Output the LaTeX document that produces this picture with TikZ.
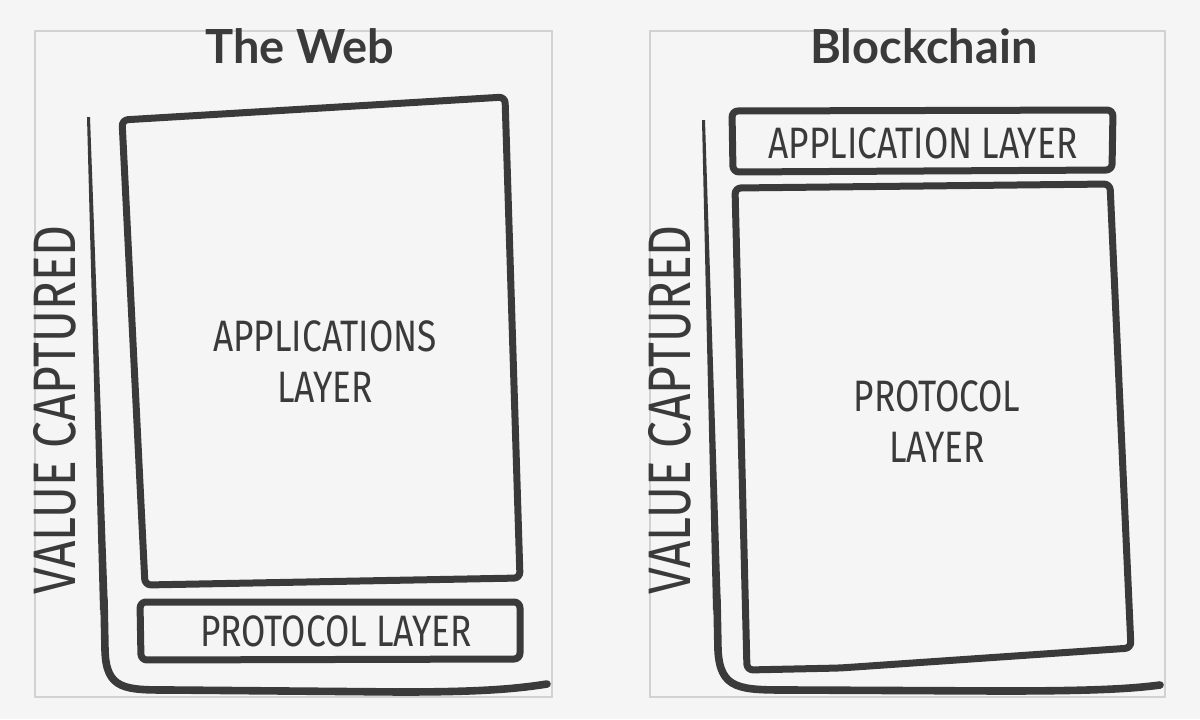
\documentclass[tikz,border=0pt]{standalone}
\usepackage{fontspec}
\newfontfamily\titlefont{Lato}
\newfontfamily\handfont[FakeStretch=0.8]{Fira Sans}
\usetikzlibrary{positioning}

\definecolor{bgcol}{HTML}{F5F5F5}
\definecolor{framecol}{HTML}{D2D2D2}
\definecolor{inkcol}{HTML}{3A3A3A}

\begin{document}
\begin{tikzpicture}[
    x=0.5pt, y=-0.5pt,
    panel/.style={draw=framecol, line width=0.6pt, fill=bgcol},
    title/.style={font=\titlefont\bfseries\fontsize{23.5}{28}\selectfont, text=inkcol},
    hand/.style={font=\handfont\fontsize{22}{25.5}\selectfont, text=inkcol, align=center},
    axislabel/.style={font=\handfont\fontsize{30}{34}\selectfont, text=inkcol, rotate=90},
    sketch/.style={draw=inkcol, line width=3.5pt, line join=round, rounded corners=3pt},
    axisline/.style={draw=inkcol, line width=3.8pt, line cap=round},
]

% Background
\fill[bgcol] (0,0) rectangle (1200,719);
\useasboundingbox (0,0) rectangle (1200,719);

% Left panel: the web
\draw[panel] (35,31) rectangle (552,697);
\node[title] (webtitle) at (300,46) {The Web};

\fill[inkcol] (87,117) -- (90,117) -- (108,610) -- (100,610) -- cycle;
\draw[axisline] (104,600) -- (105,650)
  .. controls (106,690) and (125,690) .. (170,690) -- (400,692)
  .. controls (480,692) and (515,689) .. (547,684);

\draw[sketch] (122,120) -- (505,97) -- (520,578) -- (145,585) -- cycle;
\node[hand] (webapp) at (325,362) {APPLICATIONS\\LAYER};

\draw[sketch] (140,602) -- (520,602) -- (520,659) -- (141,660) -- cycle;
\node[hand] (webproto) at (336,631) {PROTOCOL LAYER};

\node[axislabel] (webvalue) at (55,410) {VALUE CAPTURED};

% Right panel: blockchain
\draw[panel] (650,31) rectangle (1165,697);
\node[title] (chaintitle) at (924,46) {Blockchain};

\fill[inkcol] (702,120) -- (705,120) -- (721,610) -- (713,610) -- cycle;
\draw[axisline] (717,600) -- (718,650)
  .. controls (720,690) and (740,690) .. (790,690) -- (1000,691)
  .. controls (1090,691) and (1130,689) .. (1160,685);

\draw[sketch] (732,111) -- (1113,110) -- (1112,170) -- (733,172) -- cycle;
\node[hand] (chainapp) at (923,143) {APPLICATION LAYER};

\draw[sketch] (735,188) -- (1110,184) -- (1131,648) -- (840,668) -- (747,670) -- cycle;
\node[hand] (chainproto) at (937,422) {PROTOCOL\\LAYER};

\node[axislabel] (chainvalue) at (670,410) {VALUE CAPTURED};

\end{tikzpicture}
\end{document}
